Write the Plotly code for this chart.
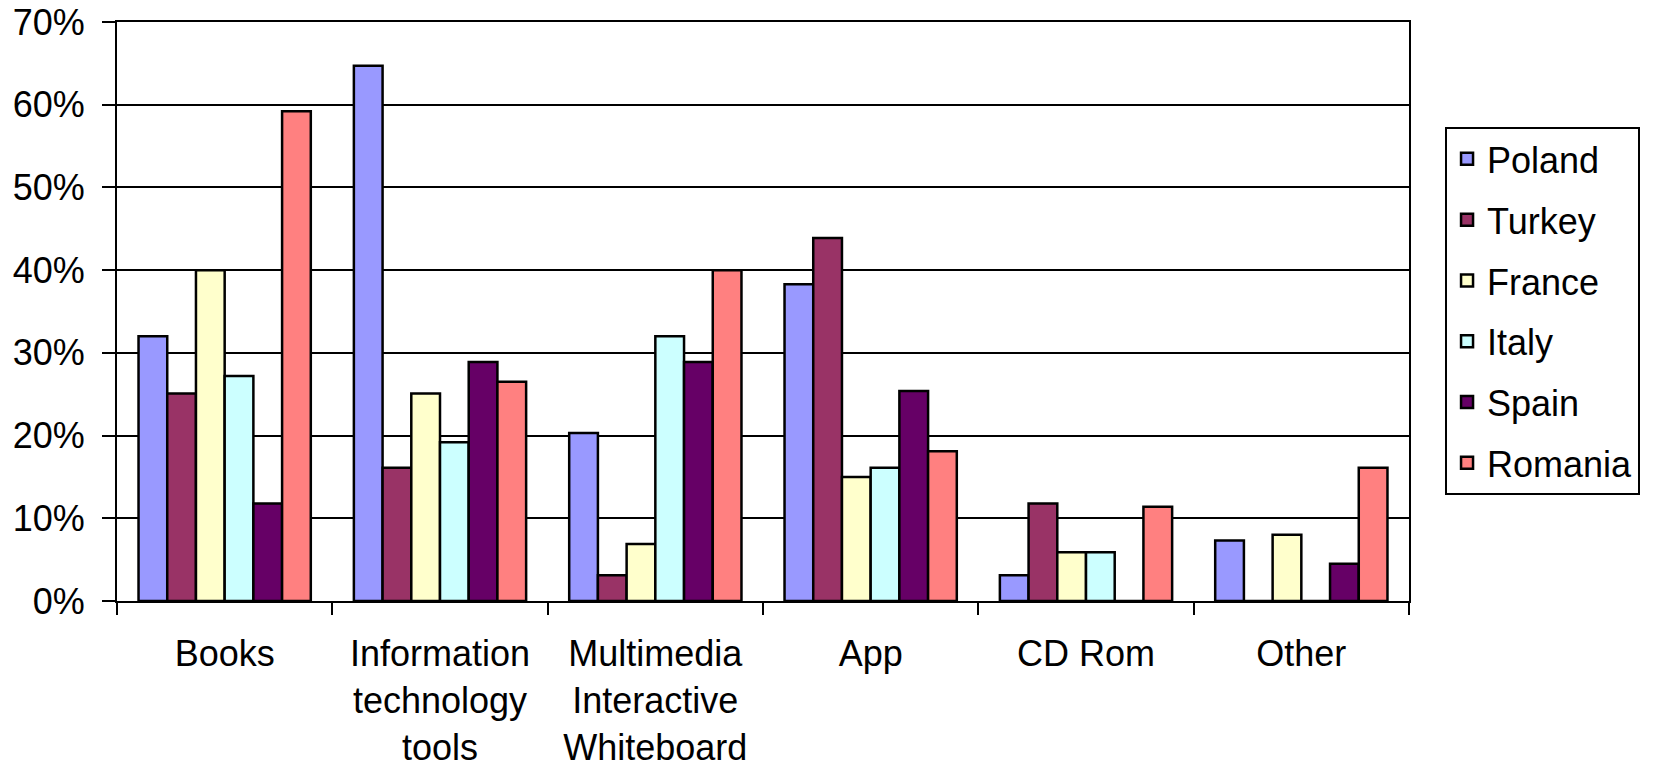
import plotly.graph_objects as go

categories = ["Books", "Information<br>technology<br>tools", "Multimedia<br>Interactive<br>Whiteboard",
              "App", "CD Rom", "Other"]
countries = ["Poland", "Turkey", "France", "Italy", "Spain", "Romania"]
colors = ["#9999FF", "#993366", "#FFFFCC", "#CCFFFF", "#660066", "#FF8080"]

poland = [0.32, 0.647, 0.203, 0.383, 0.031, 0.073]
turkey = [0.251, 0.161, 0.031, 0.439, 0.118, 0.0]
france = [0.40, 0.251, 0.069, 0.150, 0.059, 0.080]
italy = [0.272, 0.192, 0.320, 0.161, 0.059, 0.0]
spain = [0.118, 0.289, 0.289, 0.254, 0.0, 0.045]
romania = [0.592, 0.265, 0.40, 0.181, 0.114, 0.161]
series = [poland, turkey, france, italy, spain, romania]

FONT = "Liberation Sans, Arial, sans-serif"

fig = go.Figure()
for name, vals, col in zip(countries, series, colors):
    fig.add_trace(go.Bar(
        x=categories, y=vals, name=name, legendgroup=name,
        marker=dict(color=col, line=dict(color="black", width=2.5)),
    ))

fig.update_layout(
    width=1653, height=772,
    margin=dict(l=117, r=244, t=22, b=171, autoexpand=False),
    paper_bgcolor="white", plot_bgcolor="white",
    barmode="group", bargap=0.2, bargroupgap=0,
    font=dict(family=FONT, size=36, color="black"),
    showlegend=True,
    legend=dict(
        x=1.0279, y=0.8187, xanchor="left", yanchor="top",
        bordercolor="black", borderwidth=2, bgcolor="white",
        font=dict(family=FONT, size=36, color="black"),
        traceorder="grouped", tracegroupgap=11,
        entrywidth=152, entrywidthmode="pixels",
    ),
    xaxis=dict(
        automargin=False,
        showline=True, linecolor="black", linewidth=2, mirror=True,
        ticks="outside", tickson="boundaries", ticklen=12, tickwidth=2, tickcolor="black",
        tickfont=dict(family=FONT, size=36, color="black"),
        ticklabelstandoff=20,
        showgrid=False,
    ),
    yaxis=dict(
        automargin=False,
        range=[0, 0.7], dtick=0.1, tickformat=".0%",
        showline=True, linecolor="black", linewidth=2, mirror=True,
        ticks="outside", ticklen=13, tickwidth=2, tickcolor="black",
        tickfont=dict(family=FONT, size=36, color="black"),
        ticklabelstandoff=10,
        showgrid=True, gridcolor="black", gridwidth=2,
        zeroline=False,
    ),
)

fig.write_html("out.html", config={"displayModeBar": False},
               post_script="document.body.style.margin='0';")
